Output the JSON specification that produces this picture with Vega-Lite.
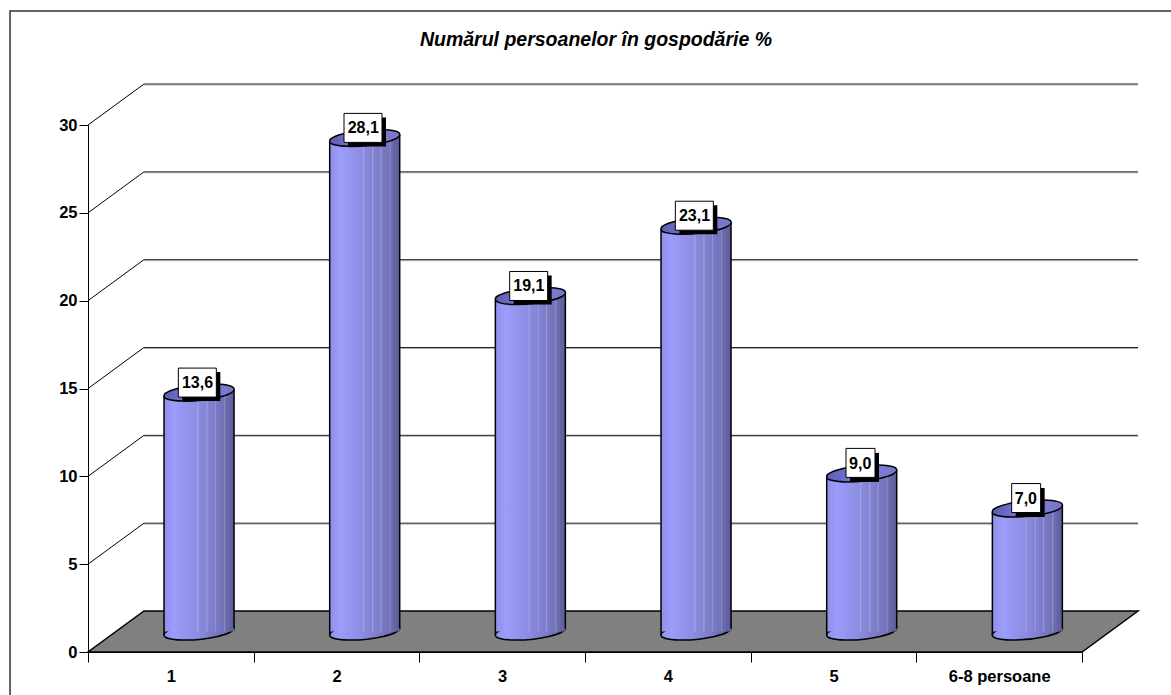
{
"$schema":"https://vega.github.io/schema/vega-lite/v6.json",
"width":994,"height":527,
"autosize":{"type":"none"},
"padding":{"left":88,"top":125,"right":89,"bottom":43},
"background":"white",
"view":{"stroke":null},
"title":{"text":"Numărul persoanelor în gospodărie %","anchor":"middle","dx":11,"offset":-42,"font":"Liberation Sans","fontSize":19.5,"fontWeight":"bold","fontStyle":"italic","color":"black"},
"datasets":{
"bars":[
{"persoane":"1","procent":13.6,"label":"13,6"},
{"persoane":"2","procent":28.1,"label":"28,1"},
{"persoane":"3","procent":19.1,"label":"19,1"},
{"persoane":"4","procent":23.1,"label":"23,1"},
{"persoane":"5","procent":9.0,"label":"9,0"},
{"persoane":"6-8 persoane","procent":7.0,"label":"7,0"}],
"grid":[{"v":5},{"v":10},{"v":15},{"v":20},{"v":25},{"v":30}],
"one":[{"persoane":"1","v":0}]
},
"layer":[
{"data":{"name":"one"},
 "mark":{"type":"point","shape":"M-160.8,43L-160.8,-641L1000.2,-641","size":4,"filled":false,"stroke":"#333333","strokeWidth":1.5,"opacity":1},
 "encoding":{"x":{"field":"persoane","type":"nominal","scale":{"domain":["1","2","3","4","5","6-8 persoane"],"paddingInner":0,"paddingOuter":0},
   "axis":{"title":null,"orient":"bottom","tickBand":"extent","labelAngle":0,"tickSize":10,"tickColor":"black","domainColor":"black","tickWidth":1,"labelFont":"Liberation Sans","labelFontSize":16.5,"labelFontWeight":"bold","labelColor":"black","labelPadding":6,"zindex":1,"grid":false}},
  "y":{"field":"v","type":"quantitative","scale":{"domain":[0,30],"nice":false,"zero":true},
   "axis":{"title":null,"values":[0,5,10,15,20,25,30],"tickSize":9,"tickColor":"black","domainColor":"black","labelFont":"Liberation Sans","labelFontSize":16.5,"labelFontWeight":"bold","labelColor":"black","labelPadding":2,"zindex":1,"grid":false}}}},
{"data":{"name":"grid"},
 "mark":{"type":"point","shape":"M0,0L994,0","size":4,"filled":false,"stroke":"#b0b0b0","strokeWidth":1,"opacity":1,"xOffset":-26.83,"yOffset":-40},
 "encoding":{"x":{"datum":"1","type":"nominal"},"y":{"field":"v","type":"quantitative"}}},
{"data":{"name":"grid"},
 "mark":{"type":"point","shape":"M0,0L994,0","size":4,"filled":false,"stroke":"#222222","strokeWidth":1,"opacity":1,"xOffset":-26.83,"yOffset":-41},
 "encoding":{"x":{"datum":"1","type":"nominal"},"y":{"field":"v","type":"quantitative"}}},
{"data":{"name":"grid"},
 "mark":{"type":"point","shape":"M0,0L56,-41","size":4,"filled":false,"stroke":"black","strokeWidth":1,"opacity":1,"xOffset":-82.83},
 "encoding":{"x":{"datum":"1","type":"nominal"},"y":{"field":"v","type":"quantitative"}}},
{"data":{"name":"one"},
 "mark":{"type":"point","shape":"M-82.83,0L911.17,0L967.17,-41L-26.83,-41Z","size":4,"filled":true,"fill":"#808080","stroke":"black","strokeWidth":1.5,"opacity":1},
 "encoding":{"x":{"field":"persoane","type":"nominal"},"y":{"field":"v","type":"quantitative"}}},
{"data":{"name":"bars"},
 "mark":{"type":"point","shape":"M-35,3.5A35.2,7.5,-5.7,1,1,35,-3.5A35.2,7.5,-5.7,1,1,-35,3.5Z","size":4,"filled":true,"opacity":1,"stroke":"black","strokeWidth":1.5,"xOffset":28.2,"yOffset":-20.5,
  "fill":{"gradient":"linear","x1":0,"x2":1,"y1":0,"y2":0,"stops":[{"offset":0,"color":"#9090ea"},{"offset":0.15,"color":"#9c9cfc"},{"offset":0.5,"color":"#8a8ade"},{"offset":0.8,"color":"#7474bc"},{"offset":1,"color":"#5a5a98"}]}},
 "encoding":{"x":{"field":"persoane","type":"nominal"},"y":{"datum":0,"type":"quantitative"}}},
{"data":{"name":"bars"},
 "mark":{"type":"bar","width":70,"xOffset":28.2,"yOffset":-20.5,"y2Offset":-20.5,
  "fill":{"gradient":"linear","x1":0,"x2":1,"y1":0,"y2":0,"stops":[{"offset":0,"color":"#9090ea"},{"offset":0.15,"color":"#9c9cfc"},{"offset":0.3,"color":"#9595ee"},{"offset":0.47,"color":"#8c8ce2"},{"offset":0.48,"color":"#a6a6ec"},{"offset":0.5,"color":"#8a8ade"},{"offset":0.6,"color":"#8484d4"},{"offset":0.61,"color":"#a0a0e4"},{"offset":0.63,"color":"#8282d0"},{"offset":0.72,"color":"#7c7cc8"},{"offset":0.73,"color":"#9898d8"},{"offset":0.75,"color":"#7a7ac4"},{"offset":0.85,"color":"#7272b8"},{"offset":0.86,"color":"#8c8cc8"},{"offset":0.88,"color":"#6e6eb0"},{"offset":1,"color":"#5a5a98"}]}},
 "encoding":{"x":{"field":"persoane","type":"nominal"},"y":{"field":"procent","type":"quantitative"},"y2":{"datum":0}}},
{"data":{"name":"bars"},
 "mark":{"type":"rule","color":"black","strokeWidth":1.5,"xOffset":-6.8,"yOffset":-17,"y2Offset":-17},
 "encoding":{"x":{"field":"persoane","type":"nominal"},"y":{"field":"procent","type":"quantitative"},"y2":{"datum":0}}},
{"data":{"name":"bars"},
 "mark":{"type":"rule","color":"black","strokeWidth":1.5,"xOffset":63.2,"yOffset":-24,"y2Offset":-24},
 "encoding":{"x":{"field":"persoane","type":"nominal"},"y":{"field":"procent","type":"quantitative"},"y2":{"datum":0}}},
{"data":{"name":"bars"},
 "mark":{"type":"point","shape":"M-35,3.5A35.2,7.5,-5.7,1,1,35,-3.5A35.2,7.5,-5.7,1,1,-35,3.5Z","size":4,"filled":true,"opacity":1,"stroke":"black","strokeWidth":1.5,"xOffset":28.2,"yOffset":-20.5,
  "fill":{"gradient":"linear","x1":0,"x2":1,"y1":0,"y2":0,"stops":[{"offset":0,"color":"#5c5cb0"},{"offset":0.5,"color":"#8080e0"},{"offset":1,"color":"#7676cc"}]}},
 "encoding":{"x":{"field":"persoane","type":"nominal"},"y":{"field":"procent","type":"quantitative"}}},
{"data":{"name":"bars"},"transform":[{"filter":"datum.procent>=10"}],
 "mark":{"type":"point","shape":"M-19,-14.5L19,-14.5L19,14.5L-19,14.5Z","size":4,"filled":true,"fill":"black","opacity":1,"strokeWidth":0,"xOffset":30.5,"yOffset":-26.5},
 "encoding":{"x":{"field":"persoane","type":"nominal"},"y":{"field":"procent","type":"quantitative"}}},
{"data":{"name":"bars"},"transform":[{"filter":"datum.procent>=10"}],
 "mark":{"type":"point","shape":"M-19,-14.5L19,-14.5L19,14.5L-19,14.5Z","size":4,"filled":true,"fill":"white","opacity":1,"stroke":"black","strokeWidth":1,"xOffset":26.5,"yOffset":-30.5},
 "encoding":{"x":{"field":"persoane","type":"nominal"},"y":{"field":"procent","type":"quantitative"}}},
{"data":{"name":"bars"},"transform":[{"filter":"datum.procent<10"}],
 "mark":{"type":"point","shape":"M-14.5,-14.5L14.5,-14.5L14.5,14.5L-14.5,14.5Z","size":4,"filled":true,"fill":"black","opacity":1,"strokeWidth":0,"xOffset":31,"yOffset":-26.5},
 "encoding":{"x":{"field":"persoane","type":"nominal"},"y":{"field":"procent","type":"quantitative"}}},
{"data":{"name":"bars"},"transform":[{"filter":"datum.procent<10"}],
 "mark":{"type":"point","shape":"M-14.5,-14.5L14.5,-14.5L14.5,14.5L-14.5,14.5Z","size":4,"filled":true,"fill":"white","opacity":1,"stroke":"black","strokeWidth":1,"xOffset":27,"yOffset":-31},
 "encoding":{"x":{"field":"persoane","type":"nominal"},"y":{"field":"procent","type":"quantitative"}}},
{"data":{"name":"bars"},
 "mark":{"type":"text","font":"Liberation Sans","fontSize":16,"fontWeight":"bold","color":"black","baseline":"middle","align":"center","xOffset":26.7,"yOffset":-30},
 "encoding":{"x":{"field":"persoane","type":"nominal"},"y":{"field":"procent","type":"quantitative"},"text":{"field":"label"}}}
]
}
